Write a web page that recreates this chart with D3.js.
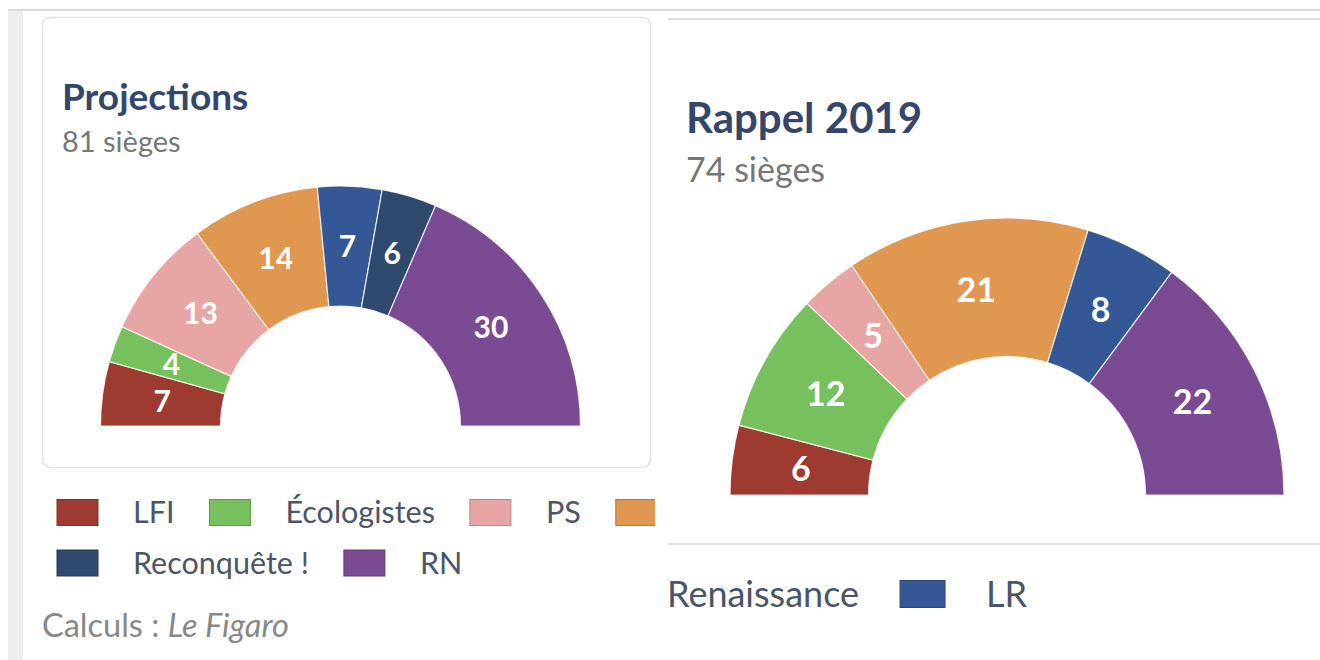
<!DOCTYPE html>
<html>
<head>
<meta charset="utf-8">
<script src="https://cdn.jsdelivr.net/npm/d3@7"></script>
<style>
  body { margin: 0; background: #ffffff; }
  svg { display: block; font-family: Lato, "Open Sans", sans-serif; }
</style>
</head>
<body>
<svg id="chart" width="1320" height="660"></svg>
<script>
// Parties, in hemicycle order (left to right)
const parties = ["LFI", "Écologistes", "PS", "Renaissance", "LR", "Reconquête !", "RN"];
const partyColors = ["#9e3b31", "#76c15d", "#e8a5a5", "#e0974f", "#345895", "#2f4a6e", "#7a4a93"];

// Seats per party
const seatsProjection = [7, 4, 13, 14, 7, 6, 30];
const seats2019 = [6, 12, 5, 21, 8, 0, 22];

// Panel texts
const titleProjection = "Projections";
const subtitleProjection = "81 sièges";
const title2019 = "Rappel 2019";
const subtitle2019 = "74 sièges";

// Legend rows
const legendProjectionRows = [
  ["LFI", "Écologistes", "PS", "Renaissance", "LR"],
  ["Reconquête !", "RN"]
];
const legend2019Rows = [["Renaissance", "LR"]];

const svg = d3.select("#chart");
const color = d3.scaleOrdinal().domain(parties).range(partyColors);

// ---- page frame ----
svg.append("rect").attr("x", 8).attr("y", 10).attr("width", 15).attr("height", 650).attr("fill", "#ededed");
svg.append("line").attr("x1", 8).attr("x2", 1320).attr("y1", 10).attr("y2", 10)
  .attr("stroke", "#dcdcdc").attr("stroke-width", 2);

// ---- left card ----
svg.append("rect").attr("x", 42.5).attr("y", 17.5).attr("width", 608).attr("height", 450)
  .attr("rx", 8).attr("fill", "#fff").attr("stroke", "#e3e3e3").attr("stroke-width", 1.5);

function drawHemicycle(g, values, cx, cy, R, labelSize) {
  const data = parties.map((p, i) => ({ party: p, value: values[i] }));
  const pie = d3.pie().sort(null).value(d => d.value)
    .startAngle(-Math.PI / 2).endAngle(Math.PI / 2);
  const arc = d3.arc().innerRadius(R * 0.5).outerRadius(R);
  const arcs = pie(data).filter(d => d.data.value > 0);
  const gg = g.append("g").attr("transform", `translate(${cx},${cy})`);
  gg.selectAll("path").data(arcs).join("path")
    .attr("d", arc)
    .attr("fill", d => color(d.data.party))
    .attr("stroke", "#ffffff").attr("stroke-width", 1.2).attr("stroke-opacity", 0.8);
  gg.selectAll("text").data(arcs).join("text")
    .attr("transform", d => `translate(${arc.centroid(d)})`)
    .attr("text-anchor", "middle").attr("dy", "0.36em")
    .attr("fill", "#ffffff").attr("font-weight", 700).attr("font-size", labelSize)
    .text(d => d.data.value);
}

function drawLegend(g, rows, x0, y0, rowGap, sw, sh, gap, fontSize, clip) {
  rows.forEach((row, ri) => {
    let x = x0;
    const cy = y0 + ri * rowGap;
    row.forEach(party => {
      if (x + sw > clip[0] && x < clip[1]) {
        g.append("rect").attr("x", x).attr("y", cy - sh / 2).attr("width", sw).attr("height", sh)
          .attr("fill", color(party)).attr("stroke", d3.color(color(party)).darker(0.6)).attr("stroke-width", 1);
      }
      x += sw + gap;
      const t = g.append("text").attr("x", x).attr("y", cy).attr("dy", "0.35em")
        .attr("font-size", fontSize).attr("fill", "#4a5568").text(party);
      const w = t.node().getComputedTextLength();
      if (x < clip[0] || x + w > clip[1]) t.remove();
      x += w + gap;
    });
  });
}

// Left panel: projections
const left = svg.append("g");
left.append("text").attr("x", 62).attr("y", 110).attr("font-size", 37).attr("font-weight", 700)
  .attr("fill", "#34476b").text(titleProjection);
left.append("text").attr("x", 62).attr("y", 152).attr("font-size", 29)
  .attr("fill", "#777777").text(subtitleProjection);
drawHemicycle(left, seatsProjection, 340.5, 426, 240, 30);

const leftClip = svg.append("defs").append("clipPath").attr("id", "clipLeft");
leftClip.append("rect").attr("x", 0).attr("y", 0).attr("width", 655).attr("height", 660);
const legLeft = svg.append("g").attr("clip-path", "url(#clipLeft)");
drawLegend(legLeft, legendProjectionRows, 57, 512.5, 50.5, 41, 26, 35, 30.5, [0, 655]);

const source = svg.append("text").attr("x", 42).attr("y", 637).attr("font-size", 32.5).attr("fill", "#888888");
source.append("tspan").text("Calculs : ");
source.append("tspan").attr("font-style", "italic").text("Le Figaro");

// ---- right card ----
svg.append("rect").attr("x", 655).attr("y", 20).attr("width", 665).attr("height", 523).attr("fill", "#ffffff");
svg.append("line").attr("x1", 668).attr("x2", 1320).attr("y1", 19).attr("y2", 19)
  .attr("stroke", "#dedede").attr("stroke-width", 2);
svg.append("line").attr("x1", 668).attr("x2", 1320).attr("y1", 544).attr("y2", 544)
  .attr("stroke", "#e3e3e3").attr("stroke-width", 2);

const right = svg.append("g");
right.append("text").attr("x", 686).attr("y", 133).attr("font-size", 42).attr("font-weight", 700)
  .attr("fill", "#34476b").text(title2019);
right.append("text").attr("x", 686).attr("y", 182).attr("font-size", 34)
  .attr("fill", "#777777").text(subtitle2019);
drawHemicycle(right, seats2019, 1007, 495, 277, 34);

const rightClip = svg.select("defs").append("clipPath").attr("id", "clipRight");
rightClip.append("rect").attr("x", 665).attr("y", 545).attr("width", 655).attr("height", 115);
const legRight = svg.append("g").attr("clip-path", "url(#clipRight)");
drawLegend(legRight, legend2019Rows, 667 - 41 - 45, 594, 0, 45, 27, 41, 36, [665, 1320]);
</script>
</body>
</html>
